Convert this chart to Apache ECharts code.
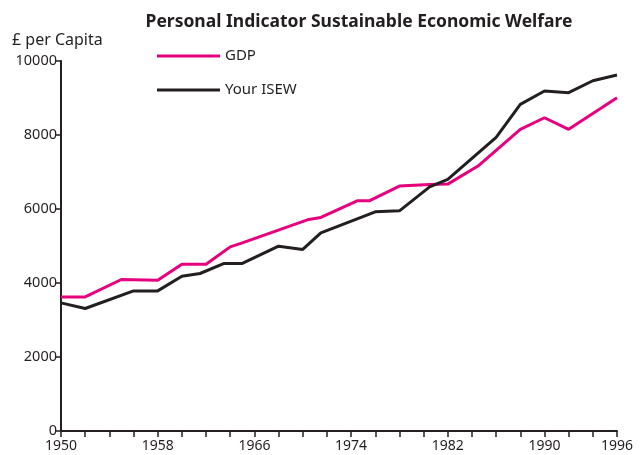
<!DOCTYPE html>
<html>
<head>
<meta charset="utf-8">
<script src="https://cdn.jsdelivr.net/npm/echarts@6/dist/echarts.min.js"></script>
<style>
  html, body { margin: 0; padding: 0; background: #fff; }
  #chart { width: 640px; height: 455px; }
</style>
</head>
<body>
<div id="chart"></div>
<script>
// values ([year, £ per capita])
const gdpData = [
    [1950, 3625], [1952, 3625], [1955, 4095], [1958, 4076], [1960, 4509],
    [1962, 4509], [1964, 4977], [1965, 5085], [1970.5, 5718], [1971.5, 5772],
    [1974.5, 6221], [1975.5, 6221], [1978, 6619], [1980.5, 6665], [1982, 6673],
    [1984.5, 7160], [1988, 8153], [1990, 8466], [1992, 8153], [1996, 9007]
]
const isewData = [
    [1950, 3462], [1952, 3310], [1956, 3787], [1958, 3787], [1960, 4184],
    [1961.5, 4257], [1963.5, 4528], [1965, 4528], [1968, 4996], [1970, 4906],
    [1971.5, 5356], [1976, 5924], [1978, 5951], [1980.5, 6600], [1982, 6800],
    [1986, 7936], [1988, 8829], [1990, 9189], [1992, 9143], [1994, 9467],
    [1996, 9621]
]
const xLabels = [1950, 1958, 1966, 1974, 1982, 1990, 1996]
const seriesNames = ['GDP', 'Your ISEW']

const FONT = 'Noto Sans'
const INK = '#231f20'
const PINK = '#e6007e'

const chart = echarts.init(document.getElementById('chart'), null, { renderer: 'canvas' })

chart.setOption({
    animation: false,
    backgroundColor: '#fff',
    textStyle: { fontFamily: FONT },
    title: [{
        text: 'Personal Indicator Sustainable Economic Welfare',
        left: 354,
        textAlign: 'center',
        top: 8,
        textStyle: { fontFamily: FONT, fontWeight: 'bold', fontSize: 17.5, color: INK },
    }, {
        text: '£ per Capita',
        left: 7,
        top: 27,
        textStyle: { fontFamily: FONT, fontWeight: 'normal', fontSize: 16, color: INK },
    }],
    legend: {
        orient: 'vertical',
        left: 152,
        top: 43,
        icon: 'rect',
        itemWidth: 63,
        itemHeight: 3,
        itemGap: 18,
        textStyle: { fontFamily: FONT, fontSize: 15, lineHeight: 16, color: INK },
        data: seriesNames,
    },
    grid: {
        left: 61,
        right: 23,
        top: 61,
        bottom: 24,
        containLabel: false,
        outerBoundsMode: 'none',
    },
    xAxis: {
        type: 'value',
        min: 1950,
        max: 1996,
        interval: 2,
        splitLine: { show: false },
        axisLine: { onZero: false, lineStyle: { color: INK, width: 2 } },
        axisTick: { show: true, length: 6, lineStyle: { color: INK, width: 1.5 } },
        axisLabel: {
            color: INK,
            fontSize: 14,
            margin: 8,
            formatter: function (v) {
                return xLabels.indexOf(v) >= 0 ? String(v) : ''
            },
        },
    },
    yAxis: {
        type: 'value',
        min: 0,
        max: 10000,
        interval: 2000,
        splitLine: { show: false },
        axisLine: { show: true, lineStyle: { color: INK, width: 2 } },
        axisTick: { show: true, length: 6, lineStyle: { color: INK, width: 1.5 } },
        axisLabel: {
            color: INK,
            fontSize: 14.5,
            margin: 4,
            formatter: function (v) { return String(v) },
        },
    },
    series: [{
        name: seriesNames[0],
        type: 'line',
        data: gdpData,
        symbol: 'none',
        lineStyle: { color: PINK, width: 3 },
        itemStyle: { color: PINK },
        z: 3,
    }, {
        name: seriesNames[1],
        type: 'line',
        data: isewData,
        symbol: 'none',
        lineStyle: { color: INK, width: 3 },
        itemStyle: { color: INK },
        z: 4,
    }]
})
</script>
</body>
</html>
